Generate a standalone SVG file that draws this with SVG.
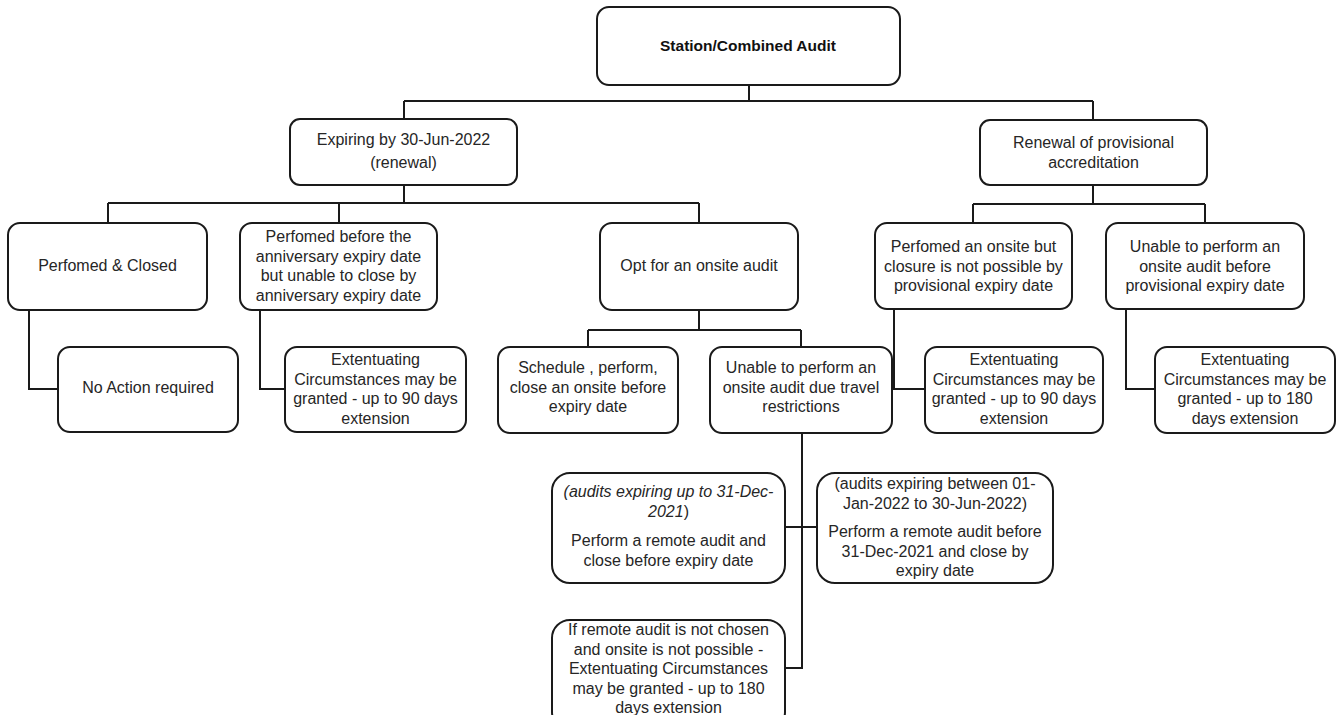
<svg xmlns="http://www.w3.org/2000/svg" width="1338" height="715" viewBox="0 0 1338 715">
<style>
.box{fill:#fff;stroke:#1a1a1a;stroke-width:2}
.t{font-family:"Liberation Sans",Arial,sans-serif;font-size:16px;fill:#262626;text-anchor:middle}
.b{font-weight:bold;font-size:15.5px;fill:#111}
.i{font-style:italic}
.c{fill:none;stroke:#1a1a1a;stroke-width:2}
</style>
<rect width="1338" height="715" fill="#fff"/>
<g id="connectors" class="c">
<path d="M749 85V101M404 101H1093M404 101V119M1093 101V120"/>
<path d="M404 185V203M108 203H699M108 203V223M339 203V223M699 203V223"/>
<path d="M1093 185V204M973 204H1205M973 204V223M1205 204V223"/>
<path d="M29 310V389H58M260 310V389H285"/>
<path d="M699 310V330M588 330H801M588 330V347M801 330V347"/>
<path d="M802 433V668H785M785 527H817"/>
<path d="M894 309V389H925M1126 309V389H1155"/>
</g>
<g id="n-root"><rect class="box" x="597" y="7" width="303" height="78" rx="12"/><text class="t b" x="748" y="51">Station/Combined Audit</text></g>
<g id="n-expiring"><rect class="box" x="290" y="119" width="227" height="66" rx="10"/><text class="t" x="403.5" y="145">Expiring by 30-Jun-2022</text><text class="t" x="403.5" y="168">(renewal)</text></g>
<g id="n-renewal"><rect class="box" x="980" y="120" width="227" height="65" rx="10"/><text class="t" x="1093.5" y="148">Renewal of provisional</text><text class="t" x="1093.5" y="168">accreditation</text></g>
<g id="n-closed"><rect class="box" x="8" y="223" width="199" height="87" rx="12"/><text class="t" x="107.5" y="271">Perfomed &amp; Closed</text></g>
<g id="n-before"><rect class="box" x="240" y="223" width="197" height="87" rx="12"/><text class="t" x="338.5" y="242">Perfomed before the</text><text class="t" x="338.5" y="261.5">anniversary expiry date</text><text class="t" x="338.5" y="281">but unable to close by</text><text class="t" x="338.5" y="300.5">anniversary expiry date</text></g>
<g id="n-opt"><rect class="box" x="600" y="223" width="198" height="87" rx="12"/><text class="t" x="699" y="271">Opt for an onsite audit</text></g>
<g id="n-perfonsite"><rect class="box" x="875" y="223" width="197" height="86" rx="12"/><text class="t" x="973.5" y="252">Perfomed an onsite but</text><text class="t" x="973.5" y="271.5">closure is not possible by</text><text class="t" x="973.5" y="291">provisional expiry date</text></g>
<g id="n-unableprov"><rect class="box" x="1106" y="223" width="198" height="86" rx="12"/><text class="t" x="1205" y="252">Unable to perform an</text><text class="t" x="1205" y="271.5">onsite audit before</text><text class="t" x="1205" y="291">provisional expiry date</text></g>
<g id="n-noaction"><rect class="box" x="58" y="347" width="180" height="85" rx="12"/><text class="t" x="148" y="393">No Action required</text></g>
<g id="n-ext90a"><rect class="box" x="285" y="347" width="181" height="85" rx="12"/><text class="t" x="375.5" y="365">Extentuating</text><text class="t" x="375.5" y="384.5">Circumstances may be</text><text class="t" x="375.5" y="404">granted  - up to 90 days</text><text class="t" x="375.5" y="423.5">extension</text></g>
<g id="n-schedule"><rect class="box" x="498" y="347" width="180" height="86" rx="12"/><text class="t" x="588" y="373">Schedule , perform,</text><text class="t" x="588" y="392.5">close an onsite before</text><text class="t" x="588" y="412">expiry date</text></g>
<g id="n-unabletravel"><rect class="box" x="710" y="347" width="182" height="86" rx="12"/><text class="t" x="801" y="373">Unable to perform an</text><text class="t" x="801" y="392.5">onsite audit due travel</text><text class="t" x="801" y="412">restrictions</text></g>
<g id="n-ext90b"><rect class="box" x="925" y="347" width="178" height="86" rx="12"/><text class="t" x="1014" y="365">Extentuating</text><text class="t" x="1014" y="384.5">Circumstances may be</text><text class="t" x="1014" y="404">granted  - up to 90 days</text><text class="t" x="1014" y="423.5">extension</text></g>
<g id="n-ext180"><rect class="box" x="1155" y="347" width="180" height="86" rx="12"/><text class="t" x="1245" y="365">Extentuating</text><text class="t" x="1245" y="384.5">Circumstances may be</text><text class="t" x="1245" y="404">granted  - up to 180</text><text class="t" x="1245" y="423.5">days extension</text></g>
<g id="n-remote2021"><rect class="box" x="552" y="473" width="233" height="110" rx="18"/><text class="t i" x="668.5" y="497">(audits expiring up to 31-Dec-</text><text class="t" x="668.5" y="517"><tspan class="i">2021</tspan>)</text><text class="t" x="668.5" y="546">Perform a remote audit and</text><text class="t" x="668.5" y="566">close before expiry date</text></g>
<g id="n-remote2022"><rect class="box" x="817" y="473" width="236" height="110" rx="18"/><text class="t" x="935" y="489">(audits expiring between 01-</text><text class="t" x="935" y="509">Jan-2022 to 30-Jun-2022)</text><text class="t" x="935" y="537">Perform a remote audit before</text><text class="t" x="935" y="557">31-Dec-2021 and close by</text><text class="t" x="935" y="576">expiry date</text></g>
<g id="n-noremote"><rect class="box" x="552" y="620" width="233" height="110" rx="18"/><text class="t" x="668.5" y="635">If remote audit is not chosen</text><text class="t" x="668.5" y="654.5">and onsite is not possible -</text><text class="t" x="668.5" y="674">Extentuating Circumstances</text><text class="t" x="668.5" y="693.5">may be granted - up to 180</text><text class="t" x="668.5" y="713">days extension</text></g>
</svg>
